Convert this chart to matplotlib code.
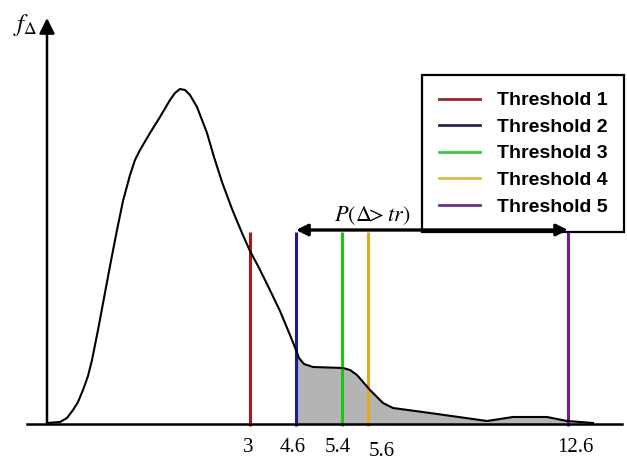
import numpy as np
import matplotlib.pyplot as plt
from matplotlib.lines import Line2D

# density curve (diagram units, origin at the axes corner)
curve_x = [0, 13, 20, 26, 31, 36, 41, 45, 51, 57, 63, 70, 76, 83, 88, 93, 103, 113, 123,
           128, 133, 138, 143, 150, 160, 167, 175, 185, 195, 203, 211, 220, 233, 243,
           249, 252, 257, 266, 296, 303, 310, 323, 336, 346, 383, 440, 453, 466, 500,
           520, 546]
curve_y = [1, 2, 6, 14, 22, 34, 48, 64, 94, 126, 158, 194, 223, 249, 264, 274, 291, 307, 324,
           331, 335, 334, 329, 317, 291, 267, 242, 215, 191, 173, 158, 140, 113, 89,
           74, 66, 60, 57, 56, 54, 49, 34, 21, 16, 11, 3, 5, 7, 7,
           3, 1]

threshold_vals = ['3', '4.6', '5.4', '5.6', '12.6']
threshold_x = [203, 249, 295, 321, 521]
threshold_names = ['Threshold 1', 'Threshold 2', 'Threshold 3', 'Threshold 4', 'Threshold 5']
line_colors = ['#b01818', '#1a1aa0', '#18c818', '#e4a818', '#7418a0']
legend_colors = ['#8a2a2a', '#262650', '#3cc83c', '#d8c050', '#6a3090']
line_top = 192

# label placement (schematic, not exactly under each line)
label_x = [201, 246, 291, 335, 528]
label_y = [-23, -23, -23, -27, -23]

plt.rcParams['mathtext.fontset'] = 'stix'

fig = plt.figure(figsize=(6.27, 4.59), dpi=100)
ax = fig.add_axes([0, 0, 1, 1])
ax.set_xlim(-47, 580)
ax.set_ylim(-35, 424)
ax.axis('off')

cx = np.array(curve_x, dtype=float)
cy = np.array(curve_y, dtype=float)

# shaded tail between threshold 2 and threshold 5
x0, x1 = threshold_x[1], threshold_x[4]
mask = (cx > x0) & (cx < x1)
fx = np.concatenate([[x0], cx[mask], [x1]])
fy = np.concatenate([[np.interp(x0, cx, cy)], cy[mask], [np.interp(x1, cx, cy)]])
ax.fill_between(fx, 0, fy, color='#b4b4b4', lw=0, zorder=1)
ax.fill_between([x1, cx[-1]], 0, [np.interp(x1, cx, cy), cy[-1]], color='#c8c8c8', lw=0, zorder=1)

for xv, col in zip(threshold_x, line_colors):
    ax.plot([xv, xv], [-2, line_top], color=col, lw=2.2, zorder=2, solid_capstyle='butt')

ax.plot(cx, cy, color='black', lw=1.5, zorder=3, solid_joinstyle='round')

# axes with arrows
ax.plot([-20, 575], [0, 0], color='black', lw=1.8, zorder=4)
ax.annotate('', xy=(588, 0), xytext=(560, 0),
            arrowprops=dict(arrowstyle='-|>', color='black', lw=1.8,
                            mutation_scale=18, shrinkA=0, shrinkB=0), zorder=4)
ax.annotate('', xy=(0, 406), xytext=(0, 0),
            arrowprops=dict(arrowstyle='-|>', color='black', lw=1.8,
                            mutation_scale=23, shrinkA=0, shrinkB=0), zorder=4)

# P(Delta > tr) span, drawn over the legend's bottom edge
ax.annotate('', xy=(x0, 194), xytext=(x1, 194),
            arrowprops=dict(arrowstyle='<|-|>', color='black', lw=2.4,
                            mutation_scale=17, shrinkA=0, shrinkB=0), zorder=11)
ax.text(325, 208, r'$P(\Delta\!\!> tr)$', fontsize=16, ha='center', va='center')

ax.text(-22, 399, r'$f_{\Delta}$', fontsize=18, ha='center', va='center')

for lx, ly, lab in zip(label_x, label_y, threshold_vals):
    ax.text(lx, ly, lab, fontsize=15, family='Liberation Serif', ha='center', va='center')

handles = [Line2D([], [], color=c, lw=2) for c in legend_colors]
leg = ax.legend(handles, threshold_names, loc='upper left', bbox_to_anchor=(0.673, 0.8366),
                borderaxespad=0, fancybox=False, framealpha=1, edgecolor='black',
                prop={'family': 'Liberation Sans', 'weight': 'bold', 'size': 14},
                handlelength=2.1, handletextpad=0.9, labelspacing=0.46, borderpad=0.86)
leg.get_frame().set_linewidth(1.6)
leg.set_zorder(10)

fig.savefig('out.png', dpi=100)
